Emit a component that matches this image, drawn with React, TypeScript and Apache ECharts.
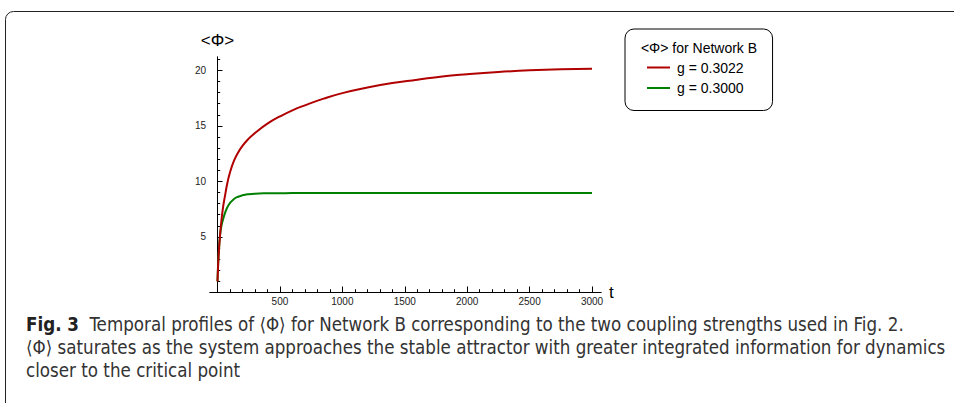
import React, { useEffect, useRef } from "react";
import * as echarts from "echarts";

// Time samples (t) and mean integrated information <Φ> for the two couplings
const times = [0, 5, 10, 20, 30, 45, 60, 80, 100, 130, 160, 200, 250, 300, 400, 500, 600, 700, 850, 1000, 1200, 1400, 1600, 1800, 2000, 2250, 2500, 2750, 3000];
const phiG3022 = [1.0, 2.4, 3.5, 5.1, 6.3, 7.7, 8.7, 9.9, 10.8, 11.8, 12.5, 13.2, 13.85, 14.35, 15.2, 15.85, 16.4, 16.85, 17.45, 17.95, 18.45, 18.85, 19.15, 19.45, 19.65, 19.85, 20.0, 20.1, 20.15];
const phiG3000 = [1.0, 2.6, 3.6, 5.1, 5.9, 6.6, 7.15, 7.7, 8.05, 8.4, 8.6, 8.75, 8.85, 8.9, 8.93, 8.94, 8.95, 8.95, 8.95, 8.95, 8.95, 8.95, 8.95, 8.95, 8.95, 8.95, 8.95, 8.95, 8.95];

const seriesNames = ["g = 0.3022", "g = 0.3000"];
const seriesColors = ["#b00000", "#008000"];

const xMajorTicks = [500, 1000, 1500, 2000, 2500, 3000];
const xMinorTicks = Array.from({ length: 30 }, (_, i) => (i + 1) * 100);
const yMajorTicks = [5, 10, 15, 20];
const yMinorTicks = Array.from({ length: 21 }, (_, i) => i + 1);

const legendTitle = "<Φ> for Network B";
const captionLines = [
  "Temporal profiles of ⟨Φ⟩ for Network B corresponding to the two coupling strengths used in Fig. 2.",
  "⟨Φ⟩ saturates as the system approaches the stable attractor with greater integrated information for dynamics",
  "closer to the critical point",
];

const plotFont = "'Liberation Sans', Arial, sans-serif";
const captionFont = "'DejaVu Sans Condensed', 'Liberation Sans Narrow', sans-serif";

export default function App() {
  const ref = useRef<HTMLDivElement>(null);

  useEffect(() => {
    if (!ref.current) return;
    const chart = echarts.init(ref.current, undefined, { renderer: "svg" });

    const grid = { left: 210, top: 57, width: 391, height: 235.5 };
    const xMin = -60;
    const xMax = 3072;
    const yMin = 0;
    const yMax = 21.2;

    const baseX = {
      type: "value",
      position: "bottom",
      min: xMin,
      max: xMax,
      splitLine: { show: false },
      axisLine: { onZero: true, lineStyle: { color: "#000", width: 1 } },
    };
    const baseY = {
      type: "value",
      position: "left",
      min: yMin,
      max: yMax,
      splitLine: { show: false },
      axisLine: { onZero: true, lineStyle: { color: "#000", width: 1 } },
    };
    const plain = (v: number) => String(v);

    const option = {
      animation: false,
      backgroundColor: "#fff",
      grid: { ...grid, containLabel: false },
      xAxis: [
        {
          ...baseX,
          name: "t",
          nameLocation: "end",
          nameGap: 5,
          nameTextStyle: { fontFamily: plotFont, fontSize: 17, color: "#000", verticalAlign: "middle" },
          axisTick: { show: true, inside: true, length: 6, customValues: xMajorTicks, lineStyle: { color: "#000" } },
          axisLabel: { show: true, margin: 4, customValues: xMajorTicks, formatter: plain, fontFamily: plotFont, fontSize: 10, color: "#222" },
        },
        {
          ...baseX,
          axisTick: { show: true, inside: true, length: 3.3, customValues: xMinorTicks, lineStyle: { color: "#000" } },
          axisLabel: { show: false },
        },
      ],
      yAxis: [
        {
          ...baseY,
          name: "<Φ>",
          nameLocation: "end",
          nameGap: 8,
          nameTextStyle: { fontFamily: plotFont, fontSize: 17, color: "#000", align: "center" },
          axisTick: { show: true, inside: true, length: 5, customValues: yMajorTicks, lineStyle: { color: "#000" } },
          axisLabel: { show: true, margin: 4, customValues: yMajorTicks, formatter: plain, fontFamily: plotFont, fontSize: 10, color: "#222" },
        },
        {
          ...baseY,
          axisTick: { show: true, inside: true, length: 2.7, customValues: yMinorTicks, lineStyle: { color: "#000" } },
          axisLabel: { show: false },
        },
      ],
      legend: {
        orient: "vertical",
        left: 625,
        top: 29,
        padding: [31.5, 29, 15.5, 22],
        itemGap: 6.5,
        itemWidth: 23,
        itemHeight: 2,
        icon: "rect",
        borderColor: "#000",
        borderWidth: 1,
        borderRadius: 9,
        textStyle: { fontFamily: plotFont, fontSize: 14, color: "#000", padding: [0, 0, 0, 2] },
        data: seriesNames,
      },
      series: [phiG3022, phiG3000].map((vals, k) => ({
        name: seriesNames[k],
        type: "line",
        xAxisIndex: 0,
        yAxisIndex: 0,
        data: times.map((t, i) => [t, vals[i]]),
        smooth: 0.5,
        showSymbol: false,
        symbol: "none",
        lineStyle: { color: seriesColors[k], width: 2 },
        itemStyle: { color: seriesColors[k] },
        z: 3 - k,
      })),
      graphic: [
        {
          type: "rect",
          shape: { x: 5.5, y: 11.5, width: 1000, height: 500, r: 8 },
          style: { fill: "none", stroke: "#222", lineWidth: 1 },
          silent: true,
        },
        {
          type: "text",
          x: 699,
          y: 48,
          style: {
            text: legendTitle,
            fontFamily: plotFont,
            fontSize: 14,
            fill: "#000",
            align: "center",
            verticalAlign: "middle",
          },
        },
        ...captionLines.map((line, i) => ({
          type: "text",
          x: 26,
          y: 334 + i * 23,
          style: {
            text: i === 0 ? `{b|Fig. 3}  ${line}` : line,
            fontFamily: captionFont,
            fontSize: 18.6,
            fill: "#333",
            verticalAlign: "bottom",
            rich: {
              b: { fontFamily: captionFont, fontSize: 18.6, fontWeight: "bold", fill: "#222" },
            },
          },
        })),
      ],
    };

    chart.setOption(option as any);
    return () => chart.dispose();
  }, []);

  return (
    <div
      ref={ref}
      style={{ position: "fixed", left: 0, top: 0, width: 954, height: 403, background: "#fff" }}
    />
  );
}
